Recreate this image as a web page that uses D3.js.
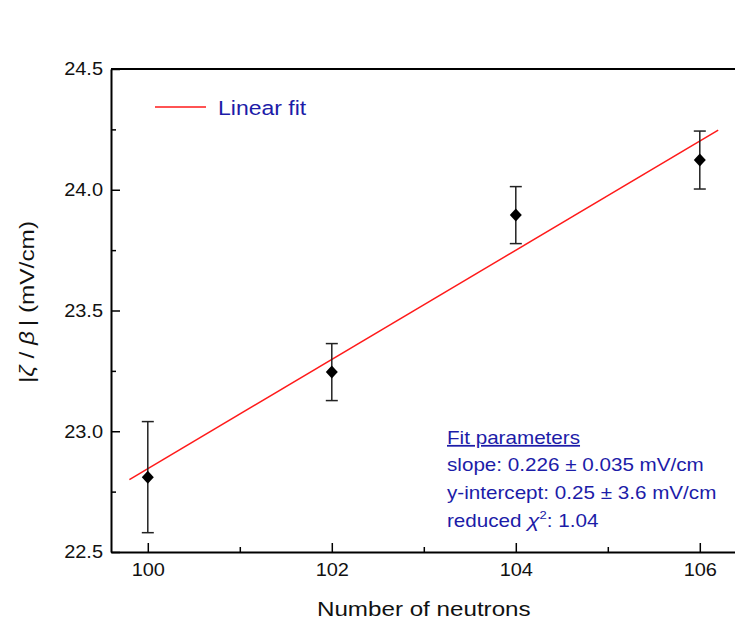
<!DOCTYPE html>
<html><head><meta charset="utf-8">
<script src="https://cdn.jsdelivr.net/npm/d3@7/dist/d3.min.js"></script>
<style>
html,body{margin:0;padding:0;background:#fff;overflow:hidden}
svg{display:block;font-family:"Liberation Sans",Arial,sans-serif}
</style></head><body>
<svg id="c" width="735" height="620"></svg>
<script>
const neutrons = [100, 102, 104, 106];
const ratio = [22.81, 23.245, 23.895, 24.123];
const errors = [0.23, 0.118, 0.118, 0.12];
const fitX = [99.8, 106.2];
const fitY = [22.80, 24.247];
const xMajorTicks = [100, 102, 104, 106];
const xMinorTicks = [101, 103, 105];
const yMajorTicks = [22.5, 23.0, 23.5, 24.0, 24.5];
const yMinorTicks = [22.75, 23.25, 23.75, 24.25];
const fitLines = ["slope: 0.226 \u00b1 0.035 mV/cm", "y-intercept: 0.25 \u00b1 3.6 mV/cm"];

const svg = d3.select("#c");
const L = 111, R = 736.6, T = 69, B = 552;
const x = d3.scaleLinear().domain([99.6, 106.4]).range([L, R]);
const y = d3.scaleLinear().domain([22.5, 24.5]).range([B, T]);
const blue = "#1c1ca8";
const SX = 1.18;   // horizontal stretch of the reference typeface
const TSX = 1.08;  // stretch for tick labels

// minor ticks
svg.append("g").attr("transform", `translate(0,${B})`)
  .call(d3.axisBottom(x).tickValues(xMinorTicks).tickSizeInner(-5).tickSizeOuter(0).tickFormat(""))
  .call(g => g.select(".domain").remove())
  .call(g => g.selectAll("line").attr("stroke", "#000").attr("stroke-width", 1.5));
svg.append("g").attr("transform", `translate(${L},0)`)
  .call(d3.axisLeft(y).tickValues(yMinorTicks).tickSizeInner(-5).tickSizeOuter(0).tickFormat(""))
  .call(g => g.select(".domain").remove())
  .call(g => g.selectAll("line").attr("stroke", "#000").attr("stroke-width", 1.5));

// major axes
const xa = svg.append("g").attr("transform", `translate(0,${B})`)
  .call(d3.axisBottom(x).tickValues(xMajorTicks).tickSizeInner(-9).tickSizeOuter(0).tickPadding(11).tickFormat(d3.format("d")));
const ya = svg.append("g").attr("transform", `translate(${L},0)`)
  .call(d3.axisLeft(y).tickValues(yMajorTicks).tickSizeInner(-9).tickSizeOuter(0).tickPadding(8).tickFormat(d3.format(".1f")));
[xa, ya].forEach(g => {
  g.select(".domain").attr("stroke", "#000").attr("stroke-width", 2);
  g.selectAll(".tick line").attr("stroke", "#000").attr("stroke-width", 1.5);
  g.selectAll(".tick text").attr("fill", "#111").style("font-size", "18.5px")
    .style("font-family", "'Liberation Sans',Arial,sans-serif")
    .attr("transform", `scale(${TSX},1)`);
});
ya.selectAll(".tick text").attr("x", -8 / TSX);

// frame top and right
svg.append("line").attr("x1", L).attr("x2", R).attr("y1", T).attr("y2", T).attr("stroke", "#000").attr("stroke-width", 2);
svg.append("line").attr("x1", R).attr("x2", R).attr("y1", T).attr("y2", B).attr("stroke", "#000").attr("stroke-width", 2);

// fit line
svg.append("line")
  .attr("x1", x(fitX[0])).attr("y1", y(fitY[0]))
  .attr("x2", x(fitX[1])).attr("y2", y(fitY[1]))
  .attr("stroke", "#ff1a1a").attr("stroke-width", 1.5);

// error bars
const eb = svg.append("g").attr("stroke", "#222").attr("stroke-width", 1.5);
neutrons.forEach((n, i) => {
  const cx = x(n), y1 = y(ratio[i] + errors[i]), y2 = y(ratio[i] - errors[i]);
  eb.append("line").attr("x1", cx).attr("x2", cx).attr("y1", y1).attr("y2", y2);
  eb.append("line").attr("x1", cx - 6).attr("x2", cx + 6).attr("y1", y1).attr("y2", y1);
  eb.append("line").attr("x1", cx - 6).attr("x2", cx + 6).attr("y1", y2).attr("y2", y2);
});
// markers
svg.append("g").selectAll("path").data(neutrons).join("path")
  .attr("transform", (d, i) => `translate(${x(d)},${y(ratio[i])})`)
  .attr("d", "M0,-6.5L6,0L0,6.5L-6,0Z").attr("fill", "#000");

function stext(px, py, size, fill, anchor) {
  return svg.append("text").attr("transform", `translate(${px},${py}) scale(${SX},1)`)
    .attr("text-anchor", anchor || "start").attr("fill", fill).style("font-size", size + "px");
}

// legend
svg.append("line").attr("x1", 155).attr("x2", 206).attr("y1", 107).attr("y2", 107)
  .attr("stroke", "#ff1a1a").attr("stroke-width", 1.5);
stext(218, 115, 19.5, blue).text("Linear fit");

// axis titles
stext((L + R) / 2, 615.5, 20.5, "#111", "middle").text("Number of neutrons");
const yt = svg.append("text").attr("transform", `translate(34,302) rotate(-90) scale(${SX + 0.04},1)`)
  .attr("text-anchor", "middle").attr("fill", "#111").style("font-size", "20px");
yt.append("tspan").text("|");
yt.append("tspan").style("font-style", "italic").text("\u03b6");
yt.append("tspan").text(" / ");
yt.append("tspan").style("font-style", "italic").text("\u03b2");
yt.append("tspan").text("\u2009| (mV/cm)");

// fit parameters
stext(447, 444, 17.5, blue).style("text-decoration", "underline").text("Fit parameters");
fitLines.forEach((t, i) => stext(447, 470.5 + i * 28, 17.5, blue).text(t));
const rc = stext(447, 526.5, 17.5, blue);
rc.append("tspan").text("reduced ");
rc.append("tspan").style("font-style", "italic").style("font-size", "19px").text("\u03c7");
rc.append("tspan").attr("dy", -8).style("font-size", "11px").text("2");
rc.append("tspan").attr("dy", 8).text(": 1.04");
</script>
</body></html>
